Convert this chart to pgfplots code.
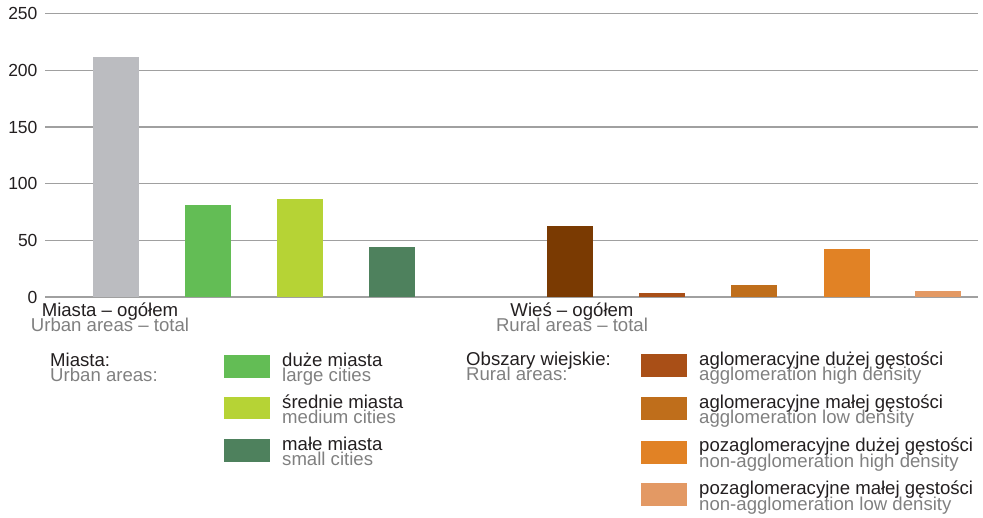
\documentclass[border=0pt]{standalone}
\usepackage{pgfplots}
\pgfplotsset{compat=1.18}
\usepackage{fontspec}
\setmainfont{Liberation Sans}

\definecolor{txtblack}{HTML}{231F20}
\definecolor{txtgrey}{HTML}{808080}
\definecolor{gridgrey}{HTML}{A0A0A0}
\definecolor{cTotalU}{HTML}{BBBCC0}
\definecolor{cLarge}{HTML}{63BD55}
\definecolor{cMedium}{HTML}{B6D335}
\definecolor{cSmall}{HTML}{4E815D}
\definecolor{cTotalR}{HTML}{7A3A02}
\definecolor{cAggHigh}{HTML}{A94F17}
\definecolor{cAggLow}{HTML}{BF6E1B}
\definecolor{cNonHigh}{HTML}{E18225}
\definecolor{cNonLow}{HTML}{E39964}

\newcommand{\fs}{\fontsize{17.5}{15.5}\selectfont}
\newcommand{\ls}{\fontsize{18.6}{15.5}\selectfont}

\begin{document}
\begin{tikzpicture}
\path (0pt,0pt) rectangle (983pt,518pt);

\begin{axis}[
    at={(45pt,221pt)}, anchor=south west,
    scale only axis,
    width=933pt, height=283.3pt,
    xmin=-0.772, xmax=9.37,
    ymin=0, ymax=250,
    ytick={0,50,...,250},
    xtick=\empty,
    axis line style={draw=none},
    major tick length=0pt,
    ymajorgrids,
    grid style={gridgrey, line width=1.3pt},
    yticklabel style={font=\fs, text=txtblack, xshift=-4pt},
    /pgf/number format/assume math mode=true,
    ybar, bar width=0.5, bar shift=0pt,
    clip=false,
]
\addplot[fill=cTotalU, draw=none] coordinates {(0,212)};
\addplot[fill=cLarge, draw=none] coordinates {(1,81.2)};
\addplot[fill=cMedium, draw=none] coordinates {(2,86.5)};
\addplot[fill=cSmall, draw=none] coordinates {(3,44.1)};
\addplot[fill=cTotalR, draw=none] coordinates {(4.93,62.7)};
\addplot[fill=cAggHigh, draw=none] coordinates {(5.94,3.5)};
\addplot[fill=cAggLow, draw=none] coordinates {(6.94,10.6)};
\addplot[fill=cNonHigh, draw=none] coordinates {(7.95,42.4)};
\addplot[fill=cNonLow, draw=none] coordinates {(8.94,5.6)};
\end{axis}

\begin{scope}[x=1pt, y=-1pt, yshift=518pt, every node/.style={font=\ls, inner sep=0pt}]
% category labels
\node[anchor=base, text=txtblack] at (110,317) {Miasta – ogółem};
\node[anchor=base, text=txtgrey] at (110,331.5) {Urban areas – total};
\node[anchor=base, text=txtblack] at (572,317) {Wieś – ogółem};
\node[anchor=base, text=txtgrey] at (572,331.5) {Rural areas – total};

% legend: urban
\node[anchor=base west, text=txtblack] at (50,366.5) {Miasta:};
\node[anchor=base west, text=txtgrey] at (50,382) {Urban areas:};
\fill[cLarge] (224,355) rectangle (270,377.7);
\fill[cMedium] (224,396.7) rectangle (270,419.3);
\fill[cSmall] (224,439) rectangle (270,461.7);
\node[anchor=base west, text=txtblack] at (282,366.5) {duże miasta};
\node[anchor=base west, text=txtgrey] at (282,382) {large cities};
\node[anchor=base west, text=txtblack] at (282,408.5) {średnie miasta};
\node[anchor=base west, text=txtgrey] at (282,424) {medium cities};
\node[anchor=base west, text=txtblack] at (282,450.5) {małe miasta};
\node[anchor=base west, text=txtgrey] at (282,466) {small cities};

% legend: rural
\node[anchor=base west, text=txtblack] at (466,365.5) {Obszary wiejskie:};
\node[anchor=base west, text=txtgrey] at (466,381) {Rural areas:};
\fill[cAggHigh] (641,354) rectangle (687,376.7);
\fill[cAggLow] (641,396.7) rectangle (687,419.7);
\fill[cNonHigh] (641,440.7) rectangle (687,463.7);
\fill[cNonLow] (641,482.7) rectangle (687,505.7);
\node[anchor=base west, text=txtblack] at (699,365.5) {aglomeracyjne dużej gęstości};
\node[anchor=base west, text=txtgrey] at (699,381) {agglomeration high density};
\node[anchor=base west, text=txtblack] at (699,408.5) {aglomeracyjne małej gęstości};
\node[anchor=base west, text=txtgrey] at (699,424) {agglomeration low density};
\node[anchor=base west, text=txtblack] at (699,451.5) {pozaglomeracyjne dużej gęstości};
\node[anchor=base west, text=txtgrey] at (699,467.5) {non-agglomeration high density};
\node[anchor=base west, text=txtblack] at (699,495) {pozaglomeracyjne małej gęstości};
\node[anchor=base west, text=txtgrey] at (699,510.5) {non-agglomeration low density};
\end{scope}
\end{tikzpicture}
\end{document}
